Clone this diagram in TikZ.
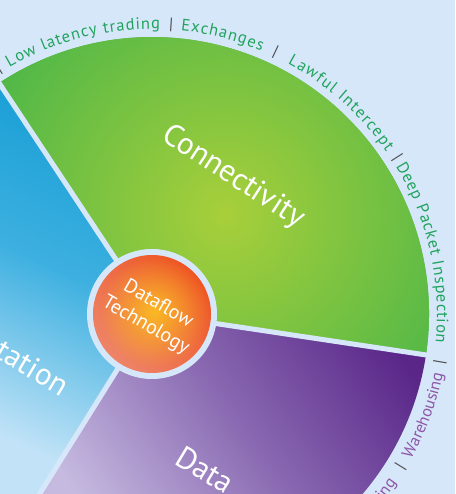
\documentclass[tikz,border=0pt]{standalone}
\usepackage{fontspec}
\setmainfont{PT Sans}
\usetikzlibrary{decorations.text,fadings}
\tikzfading[name=orfade, inner color=transparent!0, outer color=transparent!100]
\definecolor{bgc}{HTML}{D7E7FA}
\definecolor{greenin}{HTML}{A8CF3A}
\definecolor{greenout}{HTML}{4FB748}
\definecolor{bluedark}{HTML}{139CD4}
\definecolor{bluemid}{HTML}{3DB0E0}
\definecolor{bluelight}{HTML}{C2E3F7}
\definecolor{purpdark}{HTML}{5A2789}
\definecolor{purpmid}{HTML}{8A6AB2}
\definecolor{purplight}{HTML}{C6BAE0}
\definecolor{orin}{HTML}{FBB923}
\definecolor{orout}{HTML}{EE5523}
\definecolor{orpink}{HTML}{EE8468}
\definecolor{gtc}{HTML}{1FA35C}
\definecolor{ptc}{HTML}{8C57A8}
\definecolor{barc}{HTML}{4D4D4D}
\newcommand\ringfont{\fontsize{16.5}{19}\selectfont}
\tikzset{
  gring/.style={decorate, decoration={text along path, text align={fit to path}, text color=gtc, text={|\ringfont|#1}}},
  pring/.style={decorate, decoration={text along path, text align={fit to path}, text color=ptc, text={|\ringfont|#1}}},
  pringr/.style={decorate, decoration={text along path, text align={right}, text color=ptc, text={|\ringfont|#1}}},
  barmark/.style={text=barc, font=\ringfont, inner sep=0pt},
  bigtext/.style={text=white, font=\fontsize{31}{37}\selectfont, inner sep=0pt},
  midtext/.style={text=white, font=\fontsize{20}{24.5}\selectfont, inner sep=0pt, align=center},
  sepline/.style={draw=bgc, line width=5pt},
}
\begin{document}
\begin{tikzpicture}[x=1pt,y=1pt]
\useasboundingbox (-152,-180) rectangle (303,314);
\fill[bgc] (-152,-180) rectangle (303,314);
\begin{scope}
\clip (-152,-180) rectangle (303,314);
% green sector
\begin{scope}
\clip (0,0) -- (-8.5:277) arc[start angle=-8.5, end angle=123.5, radius=277] -- cycle;
\fill[greenout] (-160,-190) rectangle (310,320);
\shade[inner color=greenin, outer color=greenout] (73,100) circle (265);
\end{scope}
% blue sector
\begin{scope}
\clip (0,0) -- (123.5:277) arc[start angle=123.5, end angle=238, radius=277] -- cycle;
\shade[top color=bluedark, bottom color=bluelight, middle color=bluemid, shading angle=-25] (-155,-185) rectangle (40,240);
\end{scope}
% purple sector
\begin{scope}
\clip (0,0) -- (238:277) arc[start angle=238, end angle=351.5, radius=277] -- cycle;
\shade[top color=purpdark, bottom color=purplight, middle color=purpmid, shading angle=-55] (-155,-185) rectangle (290,15);
\end{scope}
% separators
\draw[sepline] (0,0) -- (123.5:285);
\draw[sepline] (0,0) -- (-8.5:285);
\draw[sepline] (0,0) -- (238:285);
% centre disc
\fill[bgc] (0,0) circle (65);
\shade[top color=orout, bottom color=orpink, shading angle=-45] (0,0) circle (59);
\fill[orin, path fading=orfade] (2,2) circle (55);
% outer ring texts
\path[gring={Low latency trading}] (120:285) arc[start angle=120, end angle=88.4, radius=285];
\path[gring={Exchanges}] (84.2:285) arc[start angle=84.2, end angle=67.4, radius=285];
\path[gring={Lawful Intercept}] (61.6:285) arc[start angle=61.6, end angle=34.7, radius=285];
\path[gring={Deep Packet Inspection}] (31.2:285) arc[start angle=31.2, end angle=-5.8, radius=285];
\path[pring={Warehousing}] (-29.3:297) arc[start angle=-29.3, end angle=-12.2, radius=297];
\path[pringr={ing}] (-48:297) arc[start angle=-48, end angle=-34.6, radius=297];
\node[barmark, rotate=32] (b0) at (122:289) {|};
\node[barmark, rotate=-3.8] (b1) at (86.2:290) {|};
\node[barmark, rotate=-25.2] (b2) at (64.8:290) {|};
\node[barmark, rotate=-57.4] (b3) at (32.6:291) {|};
\node[barmark, rotate=-99.6] (b4) at (-9.6:292) {|};
\node[barmark, rotate=-121.6] (b5) at (-31.6:292) {|};
% sector and centre labels
\node[bigtext, rotate=-33] (conn) at (81,137) {Connectivity};
\node[bigtext, rotate=-31, anchor=base east] (comp) at (-91,-83) {tation};
\node[bigtext, rotate=-31, anchor=base west] (data) at (21,-149) {Data};
\node[midtext, rotate=-30] (df) at (0,-1) {Dataflow\\Technology};
\end{scope}
\end{tikzpicture}
\end{document}
